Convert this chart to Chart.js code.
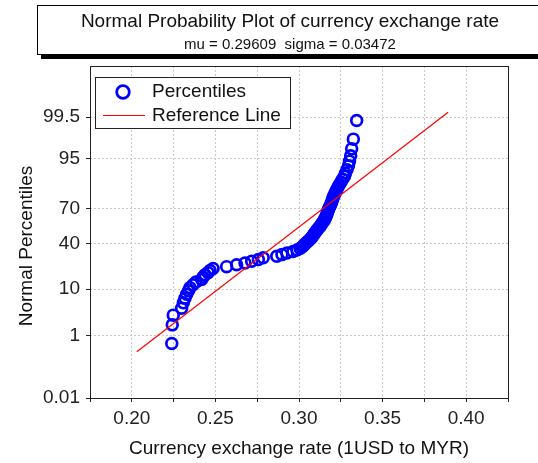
<!DOCTYPE html>
<html>
<head>
<meta charset="utf-8">
<title>Normal Probability Plot</title>
<script src="https://cdn.jsdelivr.net/npm/chart.js@4.4.0/dist/chart.umd.min.js"></script>
<style>
  html, body { margin: 0; padding: 0; background: #fff; overflow: hidden; }
  #wrap { position: relative; width: 538px; height: 463px; overflow: hidden; }
  canvas { position: absolute; left: 0; top: 0; }
  #titleBox {
    position: absolute; left: 37px; top: 5px; width: 506px; height: 50px;
    box-sizing: border-box; border: 1px solid #000; box-shadow: 4px 4px 0 #000;
    background: #fff; text-align: center; color: #111;
    font-family: "Liberation Sans", Arial, sans-serif;
  }
  #titleBox .main { font-size: 19px; line-height: 22px; padding-top: 4px; }
  #titleBox .sub { font-size: 15px; line-height: 18px; margin-top: 3px; white-space: pre; }
</style>
</head>
<body>
<div id="wrap">
  <canvas id="npp" width="538" height="463"></canvas>
  <div id="titleBox">
    <div class="main">Normal Probability Plot of currency exchange rate</div>
    <div class="sub">mu = 0.29609  sigma = 0.03472</div>
  </div>
</div>
<script>
// sorted exchange rates (1USD to MYR)
const rates = [
  0.2239, 0.2242, 0.2248, 0.2298, 0.2308, 0.2318, 0.2328, 0.2339, 0.2348, 0.2366,
  0.2384, 0.2418, 0.2426, 0.2438, 0.2456, 0.2468, 0.2486, 0.2567, 0.2627, 0.2677,
  0.2717, 0.2757, 0.2786, 0.2867, 0.2898, 0.2928, 0.2964, 0.2988, 0.3006, 0.3018,
  0.3027, 0.3036, 0.3045, 0.3054, 0.3063, 0.3072, 0.3078, 0.3084, 0.3090, 0.3096,
  0.3102, 0.3108, 0.3114, 0.3123, 0.3129, 0.3134, 0.3140, 0.3146, 0.3152, 0.3155,
  0.3160, 0.3164, 0.3167, 0.3170, 0.3173, 0.3176, 0.3181, 0.3185, 0.3190, 0.3194,
  0.3197, 0.3201, 0.3205, 0.3209, 0.3215, 0.3221, 0.3227, 0.3233, 0.3242, 0.3251,
  0.3260, 0.3272, 0.3278, 0.3287, 0.3296, 0.3302, 0.3309, 0.3315, 0.3325, 0.3345
];

// fitted normal
const mu = 0.29609;
const sigma = 0.03472;
const refLineX = [0.2030, 0.3892];

// axis ticks
const yTickPercents = [0.01, 1, 10, 40, 70, 95, 99.5];
const yTickLabels = ['0.01', '1', '10', '40', '70', '95', '99.5'];
const xTickValues = [0.175, 0.2, 0.225, 0.25, 0.275, 0.3, 0.325, 0.35, 0.375, 0.4, 0.425];
const xTickLabels = ['', '0.20', '', '0.25', '', '0.30', '', '0.35', '', '0.40', ''];

// inverse standard normal CDF (Acklam)
function probit(p) {
  const a = [-3.969683028665376e+01, 2.209460984245205e+02, -2.759285104469687e+02,
             1.383577518672690e+02, -3.066479806614716e+01, 2.506628277459239e+00];
  const b = [-5.447609879822406e+01, 1.615858368580409e+02, -1.556989798598866e+02,
             6.680131188771972e+01, -1.328068155288572e+01];
  const c = [-7.784894002430293e-03, -3.223964580411365e-01, -2.400758277161838e+00,
             -2.549732539343734e+00, 4.374664141464968e+00, 2.938163982698783e+00];
  const d = [7.784695709041462e-03, 3.224671290700398e-01, 2.445134137142996e+00,
             3.754408661907416e+00];
  const plow = 0.02425;
  if (p < plow || p > 1 - plow) {
    const q = Math.sqrt(-2 * Math.log(p < plow ? p : 1 - p));
    const v = (((((c[0]*q + c[1])*q + c[2])*q + c[3])*q + c[4])*q + c[5]) /
              ((((d[0]*q + d[1])*q + d[2])*q + d[3])*q + 1);
    return p < plow ? v : -v;
  }
  const q = p - 0.5, r = q * q;
  return (((((a[0]*r + a[1])*r + a[2])*r + a[3])*r + a[4])*r + a[5]) * q /
         (((((b[0]*r + b[1])*r + b[2])*r + b[3])*r + b[4])*r + 1);
}

// plotting positions (i - 0.5) / n on the probit scale
const points = rates.map((x, i) => ({ x: x, y: probit((i + 0.5) / rates.length) }));
const refLine = refLineX.map(x => ({ x: x, y: (x - mu) / sigma }));

const FONT = '"Liberation Sans", Arial, sans-serif';
Chart.defaults.font.family = FONT;
Chart.defaults.color = '#222';

// box round the plot area, legend inside it, rotated y label
const decorations = {
  id: 'decorations',
  afterDraw(chart) {
    const ctx = chart.ctx;
    const ca = chart.chartArea;
    ctx.save();
    ctx.strokeStyle = '#222';
    ctx.lineWidth = 1;
    ctx.strokeRect(Math.round(ca.left) + 0.5, Math.round(ca.top) + 0.5,
                   Math.round(ca.right - ca.left), Math.round(ca.bottom - ca.top));

    const bx = ca.left + 5, by = ca.top + 11, bw = 195, bh = 51;
    ctx.fillStyle = '#fff';
    ctx.fillRect(bx, by, bw, bh);
    ctx.strokeRect(bx + 0.5, by + 0.5, bw, bh);

    ctx.beginPath();
    ctx.arc(bx + 28, by + 15, 6.3, 0, Math.PI * 2);
    ctx.strokeStyle = '#0000ff';
    ctx.lineWidth = 2.8;
    ctx.stroke();

    ctx.beginPath();
    ctx.moveTo(bx + 8, by + 38.5);
    ctx.lineTo(bx + 50, by + 38.5);
    ctx.strokeStyle = '#ff0000';
    ctx.lineWidth = 1.2;
    ctx.stroke();

    ctx.fillStyle = '#111';
    ctx.font = '19px ' + FONT;
    ctx.textAlign = 'left';
    ctx.textBaseline = 'middle';
    ctx.fillText('Percentiles', bx + 57, by + 15);
    ctx.fillText('Reference Line', bx + 57, by + 38.5);

    ctx.translate(31.5, 246);
    ctx.rotate(-Math.PI / 2);
    ctx.textAlign = 'center';
    ctx.textBaseline = 'alphabetic';
    ctx.fillText('Normal Percentiles', 0, 0);
    ctx.restore();
  }
};

new Chart(document.getElementById('npp'), {
  type: 'scatter',
  data: {
    datasets: [
      {
        label: 'Reference Line',
        data: refLine,
        showLine: true,
        borderColor: '#ff0000',
        borderWidth: 1.2,
        pointRadius: 0
      },
      {
        label: 'Percentiles',
        data: points,
        pointStyle: 'circle',
        pointRadius: 5.4,
        pointBorderWidth: 2.7,
        borderColor: '#0000ff',
        backgroundColor: 'rgba(0,0,0,0)'
      }
    ]
  },
  options: {
    responsive: false,
    animation: false,
    layout: { padding: { top: 66, right: 30, left: 0, bottom: 0 } },
    plugins: {
      legend: { display: false },
      tooltip: { enabled: false }
    },
    scales: {
      x: {
        type: 'linear',
        min: 0.175,
        max: 0.425,
        afterBuildTicks: s => { s.ticks = xTickValues.map(v => ({ value: v })); },
        afterFit: s => { s.height = 65; },
        ticks: {
          autoSkip: false,
          maxRotation: 0,
          padding: 5.5,
          font: { size: 19 },
          callback: (v, i) => xTickLabels[i]
        },
        grid: { color: '#c8c8c8', lineWidth: 1, tickLength: 4, tickColor: '#222', tickBorderDash: [] },
        border: { display: false, dash: [2, 2] },
        title: {
          display: true,
          text: 'Currency exchange rate (1USD to MYR)',
          font: { size: 19 },
          color: '#111',
          padding: { top: 0, bottom: 3 }
        }
      },
      y: {
        type: 'linear',
        min: probit(0.0001),
        max: probit(0.9999),
        afterBuildTicks: s => { s.ticks = yTickPercents.map(p => ({ value: probit(p / 100) })); },
        afterFit: s => { s.width = 90; },
        ticks: {
          autoSkip: false,
          padding: 6,
          font: { size: 19 },
          callback: (v, i) => yTickLabels[i]
        },
        grid: { color: '#c8c8c8', lineWidth: 1, tickLength: 4, tickColor: '#222', tickBorderDash: [] },
        border: { display: false, dash: [2, 2] }
      }
    }
  },
  plugins: [decorations]
});
</script>
</body>
</html>
